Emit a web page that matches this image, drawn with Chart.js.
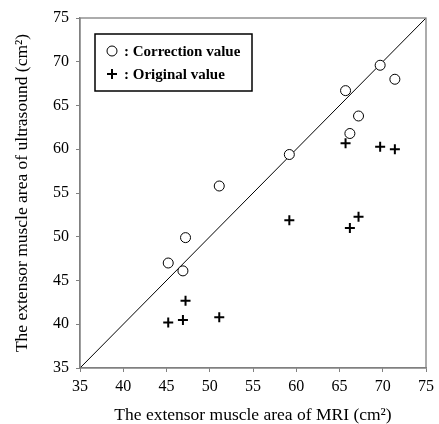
<!DOCTYPE html>
<html>
<head>
<meta charset="utf-8">
<script src="https://cdn.jsdelivr.net/npm/chart.js@4/dist/chart.umd.min.js"></script>
<style>
  html,body{margin:0;padding:0;background:#fff;}
  #wrap{width:439px;height:424px;}
</style>
</head>
<body>
<div id="wrap"><canvas id="c" width="439" height="424"></canvas></div>
<script>
// MRI area (x) shared by both series
const mriArea = [45.2, 46.9, 47.2, 51.1, 59.2, 65.7, 66.2, 67.2, 69.7, 71.4];
const correctionValue = [47.0, 46.1, 49.9, 55.8, 59.4, 66.7, 61.8, 63.8, 69.6, 68.0];
const originalValue = [40.2, 40.5, 42.7, 40.8, 51.9, 60.7, 51.0, 52.3, 60.3, 60.0];
const identityLine = [35, 75];
const tickValues = [35, 40, 45, 50, 55, 60, 65, 70, 75];
const legendLabels = [': Correction value', ': Original value'];

const SERIF = '"Liberation Serif", "Times New Roman", serif';
const AXIS_GREY = '#808080';

const pts = ys => mriArea.map((x,i)=>({x, y:ys[i]}));

// frame round the plot + legend box in upper left
const framePlugin = {
  id:'frame',
  afterDatasetsDraw(chart){
    const {ctx, chartArea:a} = chart;
    ctx.save();
    ctx.strokeStyle = AXIS_GREY; ctx.lineWidth = 1.3;
    ctx.strokeRect(a.left, a.top, a.right-a.left, a.bottom-a.top);
    // legend
    const bx = a.left+15, by = a.top+16, bw = 157, bh = 57;
    ctx.strokeStyle = '#000'; ctx.lineWidth = 1.5;
    ctx.fillStyle = '#fff';
    ctx.fillRect(bx, by, bw, bh);
    ctx.strokeRect(bx, by, bw, bh);
    ctx.font = 'bold 15px '+SERIF;
    ctx.textBaseline = 'middle';
    chart.data.datasets.slice(0,2).forEach((ds,i)=>{
      const cx = bx+17, cy = by + 17 + i*23, r = ds.pointRadius;
      ctx.strokeStyle = '#000'; ctx.lineWidth = ds.borderWidth; ctx.fillStyle = '#fff';
      ctx.beginPath();
      if(ds.pointStyle==='circle'){ ctx.arc(cx, cy, r, 0, Math.PI*2); ctx.fill(); ctx.stroke(); }
      else { ctx.moveTo(cx-r, cy); ctx.lineTo(cx+r, cy); ctx.moveTo(cx, cy-r); ctx.lineTo(cx, cy+r); ctx.stroke(); }
      ctx.fillStyle = '#000';
      ctx.fillText(legendLabels[i], bx+29, cy+1);
    });
    ctx.restore();
  }
};

const tickOpts = {
  font:{family:SERIF, size:16}, color:'#000',
};
const titleFont = {family:SERIF, size:17.5};

new Chart(document.getElementById('c'), {
  type:'scatter',
  data:{ datasets:[
    { label:'Correction value', data: pts(correctionValue), pointStyle:'circle', pointRadius:5, pointHoverRadius:5,
      borderColor:'#000', backgroundColor:'#fff', borderWidth:1, order:1 },
    { label:'Original value', data: pts(originalValue), pointStyle:'cross', pointRadius:5, pointHoverRadius:5,
      borderColor:'#000', backgroundColor:'#000', borderWidth:2, order:2 },
    { type:'line', label:'y = x', data: identityLine.map(v=>({x:v,y:v})), borderColor:'#000', borderWidth:1,
      pointRadius:0, fill:false, order:3 }
  ]},
  options:{
    responsive:false, animation:false, devicePixelRatio:1,
    layout:{ padding:{ top:18, right:0, left:0, bottom:0 } },
    plugins:{ legend:{display:false}, tooltip:{enabled:false} },
    scales:{
      x:{ type:'linear', min:35, max:75,
        afterBuildTicks: s=>{ s.ticks = tickValues.map(v=>({value:v})); },
        afterFit: s=>{ s.height = 56; },
        grid:{ display:true, drawOnChartArea:false, drawTicks:true, tickLength:4, color:AXIS_GREY },
        border:{ display:true, color:AXIS_GREY, width:1.3 },
        ticks:{ ...tickOpts, padding:5, maxRotation:0 },
        title:{ display:true, text:'The extensor muscle area of MRI (cm²)', font:titleFont, color:'#000', padding:{top:0,bottom:-2} }
      },
      y:{ type:'linear', min:35, max:75,
        afterBuildTicks: s=>{ s.ticks = tickValues.map(v=>({value:v})); },
        afterFit: s=>{ s.width = 80; },
        grid:{ display:true, drawOnChartArea:false, drawTicks:true, tickLength:4, color:AXIS_GREY },
        border:{ display:true, color:AXIS_GREY, width:1.3 },
        ticks:{ ...tickOpts, padding:7 },
        title:{ display:true, text:'The extensor muscle area of ultrasound (cm²)', font:titleFont, color:'#000', padding:{top:12,bottom:0} }
      }
    }
  },
  plugins:[framePlugin]
});
</script>
</body>
</html>
